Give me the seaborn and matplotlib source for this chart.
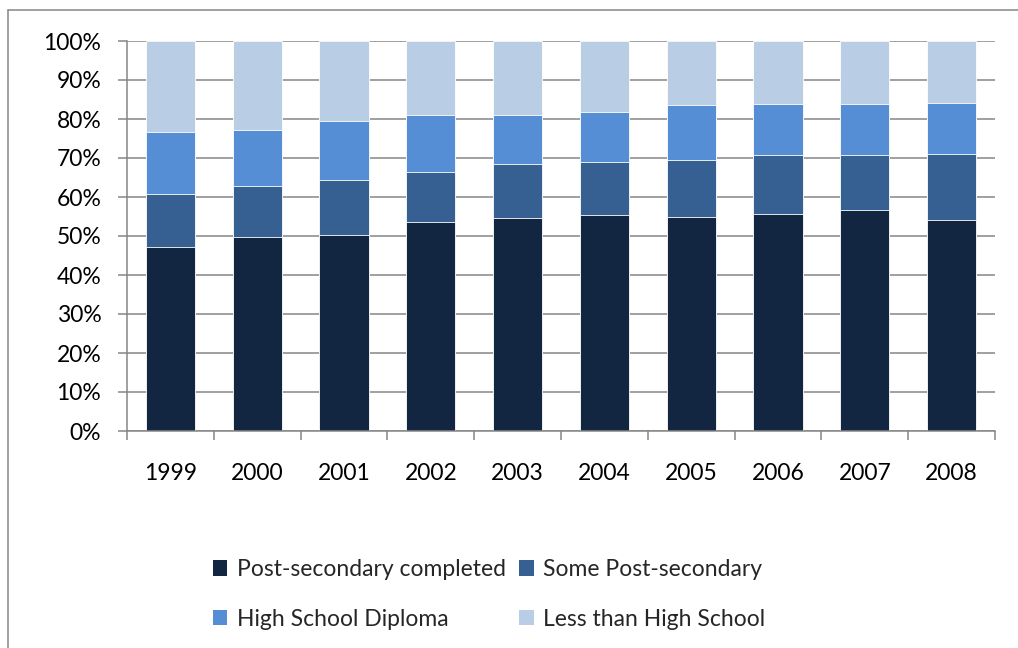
import matplotlib
matplotlib.use("Agg")
import matplotlib.pyplot as plt
from matplotlib.patches import Patch
from matplotlib.lines import Line2D
from matplotlib.ticker import FuncFormatter, FixedLocator
import numpy as np
import pandas as pd
import seaborn as sns

# Share of population by highest education level, per year (percent)
years = ["1999", "2000", "2001", "2002", "2003", "2004", "2005", "2006", "2007", "2008"]
post_secondary_completed = [47.3, 49.8, 50.3, 53.6, 54.7, 55.3, 55.0, 55.6, 56.6, 54.0]
some_post_secondary = [13.5, 13.1, 14.1, 12.7, 13.7, 13.8, 14.4, 15.1, 14.1, 16.9]
high_school_diploma = [15.9, 14.3, 15.2, 14.7, 12.6, 12.8, 14.3, 13.2, 13.2, 13.1]
less_than_high_school = [23.3, 22.8, 20.4, 19.0, 19.0, 18.1, 16.3, 16.1, 16.1, 16.0]

series_names = ["Post-secondary completed", "Some Post-secondary",
                "High School Diploma", "Less than High School"]
series_values = [post_secondary_completed, some_post_secondary,
                 high_school_diploma, less_than_high_school]
series_colors = ["#122641", "#366092", "#558ED5", "#B9CDE5"]

sns.set_style("white")
plt.rcParams["font.family"] = ["Lato", "DejaVu Sans"]

grid_gray = "#868686"
font_size = 16.5

fig = plt.figure(figsize=(10.18, 6.48), dpi=100)
ax = fig.add_axes([127 / 1018, 1 - 431 / 648, (995 - 127) / 1018, (431 - 41) / 648])

# Long-form table with running totals so each layer can be drawn as a stacked bar
rows = []
for name, vals in zip(series_names, series_values):
    for yr, v in zip(years, vals):
        rows.append({"year": yr, "series": name, "value": v})
df = pd.DataFrame(rows)
df["series"] = pd.Categorical(df["series"], categories=series_names, ordered=True)
df = df.sort_values(["year", "series"])
df["top"] = df.groupby("year")["value"].cumsum()

# Draw tallest cumulative layer first so lower segments sit on top
for name, color in reversed(list(zip(series_names, series_colors))):
    sub = df[df["series"] == name]
    sns.barplot(data=sub, x="year", y="top", order=years, color=color,
                width=0.565, edgecolor="white", linewidth=0.6,
                saturation=1, ax=ax, errorbar=None)

ax.set_xlim(-0.5, len(years) - 0.5)
ax.set_ylim(0, 100)
ax.set_xlabel("")
ax.set_ylabel("")
ax.set_axisbelow(True)

ax.yaxis.set_major_locator(FixedLocator(np.arange(0, 101, 10)))
ax.yaxis.set_major_formatter(FuncFormatter(lambda v, _: f"{int(round(v))}%"))
ax.grid(axis="y", color=grid_gray, linewidth=1.1)
ax.grid(axis="x", visible=False)

ax.tick_params(axis="y", which="major", length=6.5, width=1.1, color=grid_gray,
               pad=12, labelsize=font_size, labelcolor="black", left=True)
ax.xaxis.set_minor_locator(FixedLocator(np.arange(-0.5, len(years), 1.0)))
ax.tick_params(axis="x", which="minor", length=6.5, width=1.1, color=grid_gray,
               direction="out", bottom=True)
ax.tick_params(axis="x", which="major", length=0, pad=23, labelsize=font_size,
               labelcolor="black")

for side in ["top", "right"]:
    ax.spines[side].set_visible(False)
for side in ["left", "bottom"]:
    ax.spines[side].set_visible(True)
    ax.spines[side].set_color(grid_gray)
    ax.spines[side].set_linewidth(1.1)

# Legend below the plot, two entries per row
handles = [Patch(facecolor=c, edgecolor="none") for c in series_colors]
order = [0, 2, 1, 3]
fig.legend([handles[i] for i in order], [series_names[i] for i in order],
           loc="center", ncol=2,
           bbox_to_anchor=(489 / 1018, 1 - 594.5 / 648), frameon=False,
           fontsize=font_size, handlelength=0.65, handleheight=0.65,
           handletextpad=0.4, columnspacing=0.6, labelspacing=1.25)

# Chart frame
fx, fy = 8 / 1018, 1 - 10 / 648
fig.add_artist(Line2D([fx, 1.0], [fy, fy], color=grid_gray, linewidth=1.1,
                      transform=fig.transFigure))
fig.add_artist(Line2D([fx, fx], [0.0, fy], color=grid_gray, linewidth=1.1,
                      transform=fig.transFigure))

fig.savefig("out.png", dpi=100, facecolor="white")
